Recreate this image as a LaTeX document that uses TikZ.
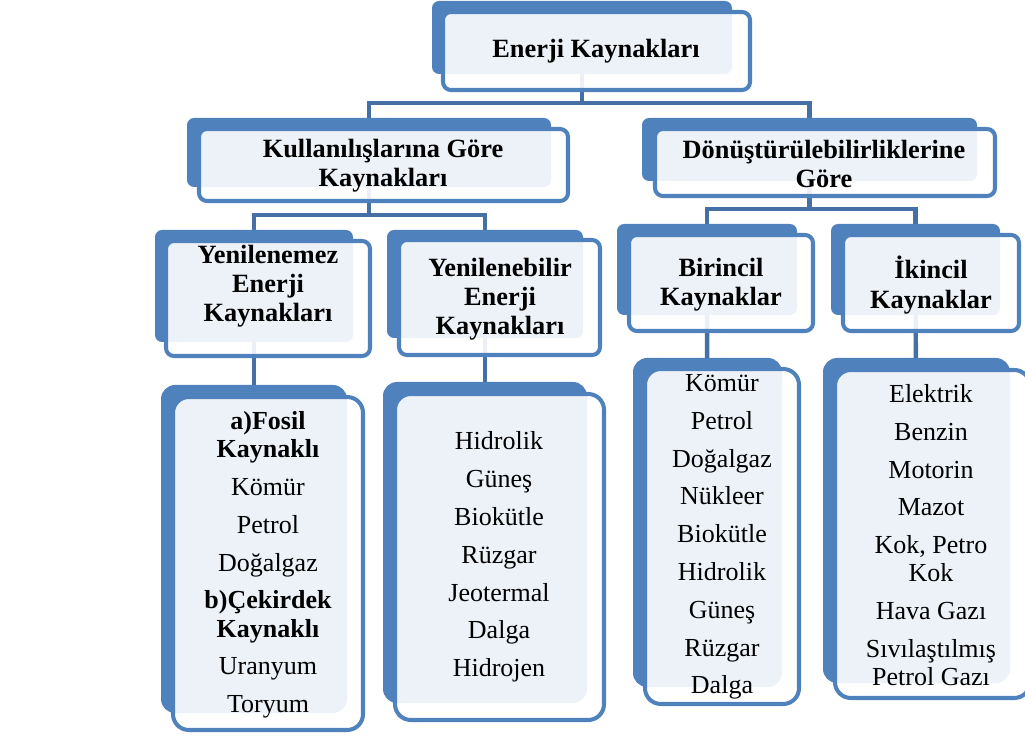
\documentclass[tikz,border=0pt]{standalone}
\usepackage{fontspec}
\setmainfont{Liberation Serif}
\usetikzlibrary{fit,backgrounds}

\definecolor{boxblue}{RGB}{79,129,189}
\definecolor{linkblue}{RGB}{68,112,166}

\newcommand{\pskip}{\\[5.5pt]}

\begin{document}
\begin{tikzpicture}[x=0.02cm, y=-0.02cm,
        backbox/.style={fill=boxblue, rounded corners=4pt, inner sep=0pt, outer sep=0pt},
        frontbox/.style={draw=boxblue, line width=2.3pt, fill=white, fill opacity=0.9, rounded corners=4.5pt, inner sep=0pt},
        listback/.style={backbox, rounded corners=8pt},
        listfront/.style={frontbox, rounded corners=9pt},
        headtext/.style={font=\fontsize{15}{16.6}\selectfont\bfseries, align=center, inner sep=0pt},
        listtext/.style={font=\fontsize{14.8}{16}\selectfont, align=center, inner sep=0pt},
        conn/.style={draw=linkblue, line width=2.5pt}]
                \useasboundingbox (0,0) rectangle (1025,736);
                % top level
                \node[backbox, fit={(432,1) (732,74)}] (b-top) {};
                \node[frontbox, fit={(443,12) (750,90)}] (f-top) {};
                \node[headtext] (t-top) at (596,51) {Enerji Kaynakları};
                % second level
                \node[backbox, fit={(187,118) (551,187)}] (b-kull) {};
                \node[frontbox, fit={(199,129) (568,201)}] (f-kull) {};
                \node[headtext] (t-kull) at (383,166) {Kullanılışlarına Göre\\Kaynakları};
                \node[backbox, fit={(642,118) (977,181)}] (b-donus) {};
                \node[frontbox, fit={(655,129) (995,196)}] (f-donus) {};
                \node[headtext] (t-donus) at (824,164) {Dönüştürülebilirliklerine\\Göre};
                % third level
                \node[backbox, fit={(155,230) (353,342)}] (b-yenz) {};
                \node[frontbox, fit={(166,241) (370,356)}] (f-yenz) {};
                \node[headtext] (t-yenz) at (268,286) {Yenilenemez\\Enerji\\Kaynakları};
                \node[backbox, fit={(387,230) (583,338)}] (b-yenb) {};
                \node[frontbox, fit={(399,240) (600,355)}] (f-yenb) {};
                \node[headtext] (t-yenb) at (500,299) {Yenilenebilir\\Enerji\\Kaynakları};
                \node[backbox, fit={(617,224) (797,315)}] (b-bir) {};
                \node[frontbox, fit={(629,235) (813,331)}] (f-bir) {};
                \node[headtext] (t-bir) at (721,285) {Birincil\\Kaynaklar};
                \node[backbox, fit={(831,224) (1000,315)}] (b-ikin) {};
                \node[frontbox, fit={(843,235) (1019,331)}] (f-ikin) {};
                \node[headtext] (t-ikin) at (931,285) {İkincil\\Kaynaklar};
                % lists
                \node[listback, fit={(161,385) (347,713)}] (b-lyenz) {};
                \node[listfront, fit={(173,397) (363,730)}] (f-lyenz) {};
                \node[listtext] (t-lyenz) at (268,565) {\textbf{a)Fosil}\\\textbf{Kaynaklı}\pskip Kömür\pskip Petrol\pskip Doğalgaz\pskip\textbf{b)Çekirdek}\\\textbf{Kaynaklı}\pskip Uranyum\pskip Toryum};
                \node[listback, fit={(383,382) (587,703)}] (b-lyenb) {};
                \node[listfront, fit={(395,394) (604,720)}] (f-lyenb) {};
                \node[listtext] (t-lyenb) at (499,557) {Hidrolik\pskip Güneş\pskip Biokütle\pskip Rüzgar\pskip Jeotermal\pskip Dalga\pskip Hidrojen};
                \node[listback, fit={(633,358) (782,687)}] (b-lbir) {};
                \node[listfront, fit={(645,369) (799,704)}] (f-lbir) {};
                \node[listtext] (t-lbir) at (722,537) {Kömür\pskip Petrol\pskip Doğalgaz\pskip Nükleer\pskip Biokütle\pskip Hidrolik\pskip Güneş\pskip Rüzgar\pskip Dalga};
                \node[listback, fit={(823,358) (1010,683)}] (b-likin) {};
                \node[listfront, fit={(835,370) (1030,698)}] (f-likin) {};
                \node[listtext] (t-likin) at (931,535) {Elektrik\pskip Benzin\pskip Motorin\pskip Mazot\pskip Kok, Petro\\Kok\pskip Hava Gazı\pskip Sıvılaştılmış\\Petrol Gazı};
                % connectors behind the boxes
                \begin{pgfonlayer}{background}
                        \draw[conn] (b-top.center) -- (b-top.center |- 0,103);
                        \draw[conn] (b-kull.center) -- (b-kull.center |- 0,103) -- (b-donus.center |- 0,103) -- (b-donus.center);
                        \draw[conn] (b-kull.center) -- (b-kull.center |- 0,215);
                        \draw[conn] (b-yenz.center) -- (b-yenz.center |- 0,215) -- (b-yenb.center |- 0,215) -- (b-yenb.center);
                        \draw[conn] (b-donus.center) -- (b-donus.center |- 0,209);
                        \draw[conn] (b-bir.center) -- (b-bir.center |- 0,209) -- (b-ikin.center |- 0,209) -- (b-ikin.center);
                        \draw[conn] (b-yenz) -- (b-lyenz);
                        \draw[conn] (b-yenb) -- (b-lyenb);
                        \draw[conn] (b-bir) -- (b-lbir);
                        \draw[conn] (b-ikin) -- (b-likin);
                \end{pgfonlayer}
        \end{tikzpicture}
\end{document}
